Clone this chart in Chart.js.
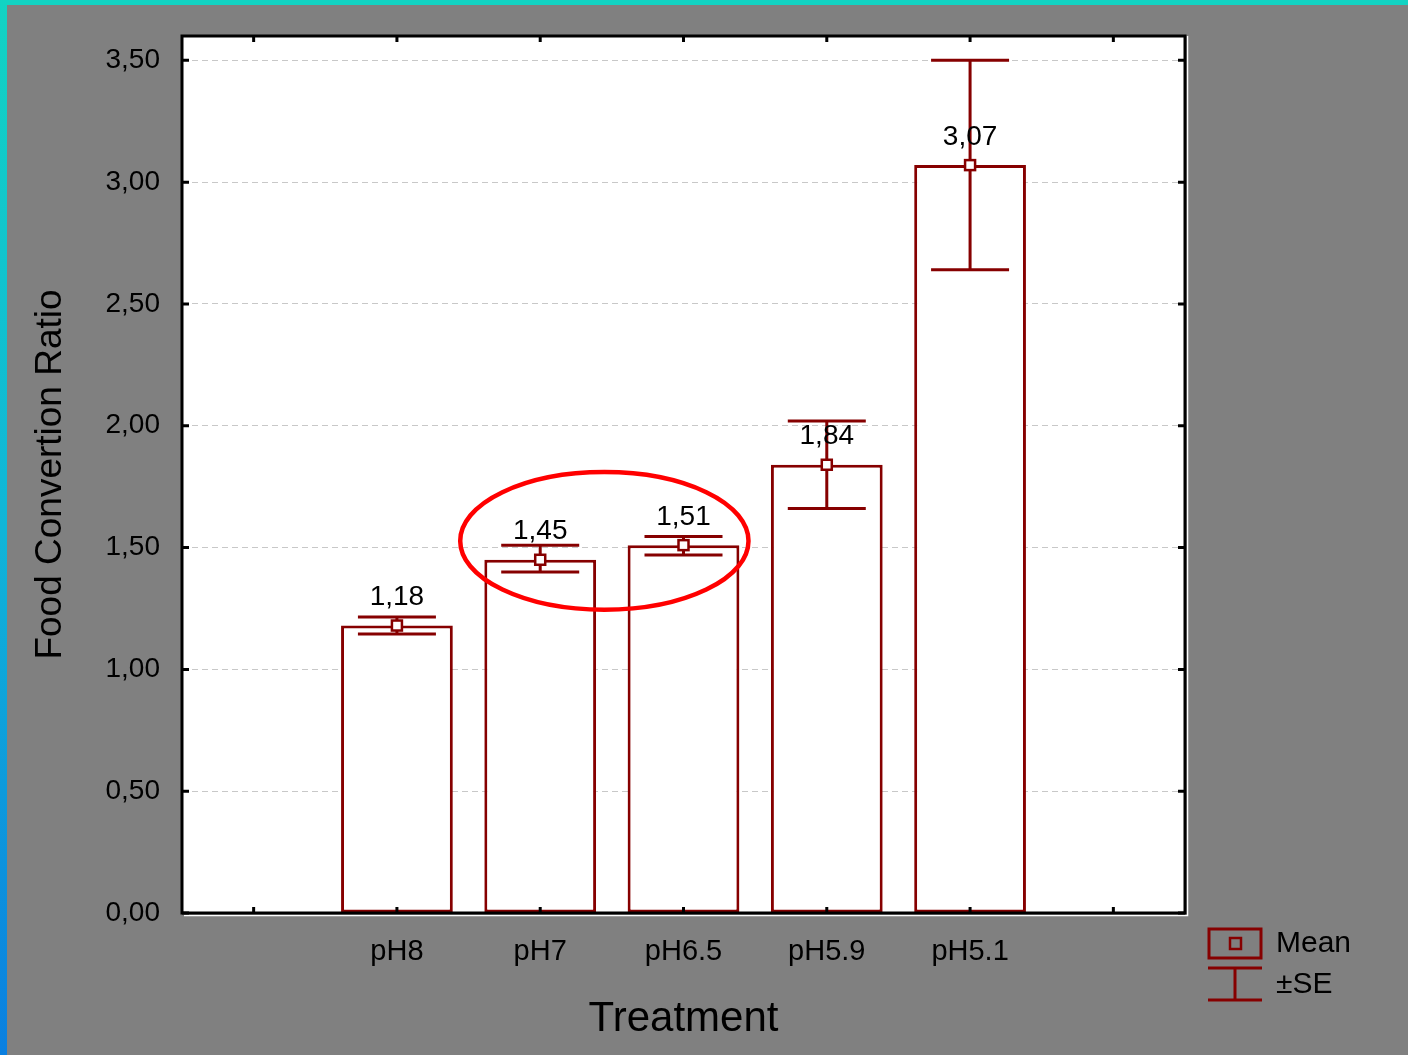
<!DOCTYPE html>
<html>
<head>
<meta charset="utf-8">
<script src="https://cdn.jsdelivr.net/npm/chart.js@4.4.1/dist/chart.umd.min.js"></script>
<style>
  html, body { margin: 0; padding: 0; background: #808080; }
  #wrap { position: relative; width: 1408px; height: 1055px; background: #808080; overflow: hidden; }
  #topStrip { position: absolute; left: 0; top: 0; width: 1408px; height: 5px; background: #12d3c3; }
  #leftStrip { position: absolute; left: 0; top: 0; width: 7px; height: 1055px;
               background: linear-gradient(to bottom, #12d3c3 0%, #10b5d8 50%, #0a7fe0 100%); }
  canvas { position: absolute; left: 0; top: 0; }
</style>
</head>
<body>
<div id="wrap">
  <div id="topStrip"></div>
  <div id="leftStrip"></div>
  <canvas id="c" width="1408" height="1055"></canvas>
</div>
<script>
// Treatment groups (empty slots pad both ends of the axis)
const categories = ['', 'pH8', 'pH7', 'pH6.5', 'pH5.9', 'pH5.1', ''];
// Mean food conversion ratio per treatment
const means = [null, 1.18, 1.45, 1.51, 1.84, 3.07, null];
// Mean ± standard error bounds
const seLow  = [null, 1.145, 1.40, 1.47, 1.66, 2.64, null];
const seHigh = [null, 1.215, 1.51, 1.545, 2.02, 3.50, null];
// Value axis ticks
const yTicks = [0, 0.5, 1.0, 1.5, 2.0, 2.5, 3.0, 3.5];

const DARK_RED = '#860000';
const FONT = '"Liberation Sans", Arial, sans-serif';

const fmt = v => v.toFixed(2).replace('.', ',');

// Frame, inner tick marks, error bars, mean markers, value labels, highlight ellipse, legend
const decorations = {
  id: 'decorations',
  afterDatasetsDraw(chart) {
    const { ctx, chartArea: a, scales: { x, y } } = chart;
    ctx.save();

    // error bars and mean markers
    ctx.strokeStyle = DARK_RED;
    ctx.lineWidth = 3;
    for (let i = 0; i < means.length; i++) {
      if (means[i] == null) continue;
      const px = x.getPixelForValue(i);
      const yLo = y.getPixelForValue(seLow[i]);
      const yHi = y.getPixelForValue(seHigh[i]);
      const cap = 39;
      ctx.beginPath();
      ctx.moveTo(px, yLo); ctx.lineTo(px, yHi);
      ctx.moveTo(px - cap, yHi); ctx.lineTo(px + cap, yHi);
      ctx.moveTo(px - cap, yLo); ctx.lineTo(px + cap, yLo);
      ctx.stroke();
    }
    for (let i = 0; i < means.length; i++) {
      if (means[i] == null) continue;
      const px = x.getPixelForValue(i);
      const py = y.getPixelForValue(means[i]);
      ctx.fillStyle = '#ffffff';
      ctx.fillRect(px - 5, py - 5, 10, 10);
      ctx.lineWidth = 2.5;
      ctx.strokeRect(px - 5, py - 5, 10, 10);
      // value label above the mean marker
      ctx.fillStyle = '#000000';
      ctx.font = '28px ' + FONT;
      ctx.textAlign = 'center';
      ctx.textBaseline = 'middle';
      ctx.fillText(fmt(means[i]), px, py - 28);
    }

    // highlight ellipse around pH7 and pH6.5
    const exL = x.getPixelForValue(2) - 80;
    const exR = x.getPixelForValue(3) + 65;
    const eyT = y.getPixelForValue(1.81);
    const eyB = y.getPixelForValue(1.245);
    ctx.strokeStyle = '#ff0000';
    ctx.lineWidth = 4.5;
    ctx.beginPath();
    ctx.ellipse((exL + exR) / 2, (eyT + eyB) / 2, (exR - exL) / 2, (eyB - eyT) / 2, 0, 0, Math.PI * 2);
    ctx.stroke();

    // outer white edge and black frame
    ctx.strokeStyle = '#ffffff';
    ctx.lineWidth = 1.5;
    ctx.beginPath();
    ctx.moveTo(a.right + 2.5, a.top); ctx.lineTo(a.right + 2.5, a.bottom + 2.5);
    ctx.lineTo(a.left + 2, a.bottom + 2.5);
    ctx.stroke();
    ctx.strokeStyle = '#000000';
    ctx.lineWidth = 3;
    ctx.strokeRect(a.left, a.top, a.right - a.left, a.bottom - a.top);

    // inner ticks
    ctx.lineWidth = 3;
    ctx.beginPath();
    yTicks.forEach(v => {
      const py = y.getPixelForValue(v);
      ctx.moveTo(a.left, py); ctx.lineTo(a.left + 7, py);
      ctx.moveTo(a.right, py); ctx.lineTo(a.right - 7, py);
    });
    for (let i = 0; i < categories.length; i++) {
      const px = x.getPixelForValue(i);
      ctx.moveTo(px, a.top); ctx.lineTo(px, a.top + 6);
      ctx.moveTo(px, a.bottom); ctx.lineTo(px, a.bottom - 6);
    }
    ctx.stroke();

    // legend
    const lx = 1208, ly = 928;
    ctx.strokeStyle = DARK_RED;
    ctx.lineWidth = 3;
    ctx.strokeRect(lx + 1, ly + 1, 52, 29);
    ctx.lineWidth = 2.5;
    ctx.strokeRect(lx + 22, ly + 10, 11, 11);
    ctx.lineWidth = 3;
    ctx.beginPath();
    ctx.moveTo(lx, ly + 40); ctx.lineTo(lx + 54, ly + 40);
    ctx.moveTo(lx + 27, ly + 40); ctx.lineTo(lx + 27, ly + 72);
    ctx.moveTo(lx, ly + 72); ctx.lineTo(lx + 54, ly + 72);
    ctx.stroke();
    ctx.fillStyle = '#000000';
    ctx.font = '30px ' + FONT;
    ctx.textAlign = 'left';
    ctx.textBaseline = 'middle';
    ctx.fillText('Mean', 1276, ly + 16);
    ctx.fillText('\u00B1SE', 1276, ly + 57);

    ctx.restore();
  }
};

// white plotting area
const plotBg = {
  id: 'plotBg',
  beforeDraw(chart) {
    const { ctx, chartArea: a } = chart;
    ctx.save();
    ctx.fillStyle = '#ffffff';
    ctx.fillRect(a.left, a.top, a.right - a.left, a.bottom - a.top);
    ctx.restore();
  }
};

new Chart(document.getElementById('c'), {
  type: 'bar',
  data: {
    labels: categories,
    datasets: [{
      data: means,
      backgroundColor: '#ffffff',
      borderColor: DARK_RED,
      borderWidth: 3,
      borderSkipped: false,
      barPercentage: 0.78,
      categoryPercentage: 1.0
    }]
  },
  options: {
    responsive: false,
    animation: false,
    layout: { autoPadding: false, padding: { top: 36, right: 223, left: 0, bottom: 0 } },
    plugins: { legend: { display: false }, tooltip: { enabled: false } },
    scales: {
      x: {
        grid: { display: false, drawTicks: false },
        border: { display: false },
        ticks: { color: '#000', font: { family: FONT, size: 29 }, padding: 22, maxRotation: 0 },
        title: { display: true, text: 'Treatment', color: '#000',
                 font: { family: FONT, size: 42 }, padding: { top: 0, bottom: 10 } },
        afterFit(s) { s.height = 142; }
      },
      y: {
        min: 0, max: 3.6,
        afterBuildTicks(s) { s.ticks = yTicks.map(v => ({ value: v })); },
        grid: { color: '#c8c8c8', lineWidth: 1, drawTicks: false },
        border: { display: false, dash: [6, 4] },
        ticks: { color: '#000', font: { family: FONT, size: 28 }, padding: 22,
                 callback: v => fmt(v) },
        title: { display: true, text: 'Food Convertion Ratio', color: '#000',
                 font: { family: FONT, size: 37 }, padding: { top: 29, bottom: 0 } },
        afterFit(s) { s.width = 182; s.paddingTop = 0; s.paddingBottom = 0; }
      }
    }
  },
  plugins: [plotBg, decorations]
});
</script>
</body>
</html>
